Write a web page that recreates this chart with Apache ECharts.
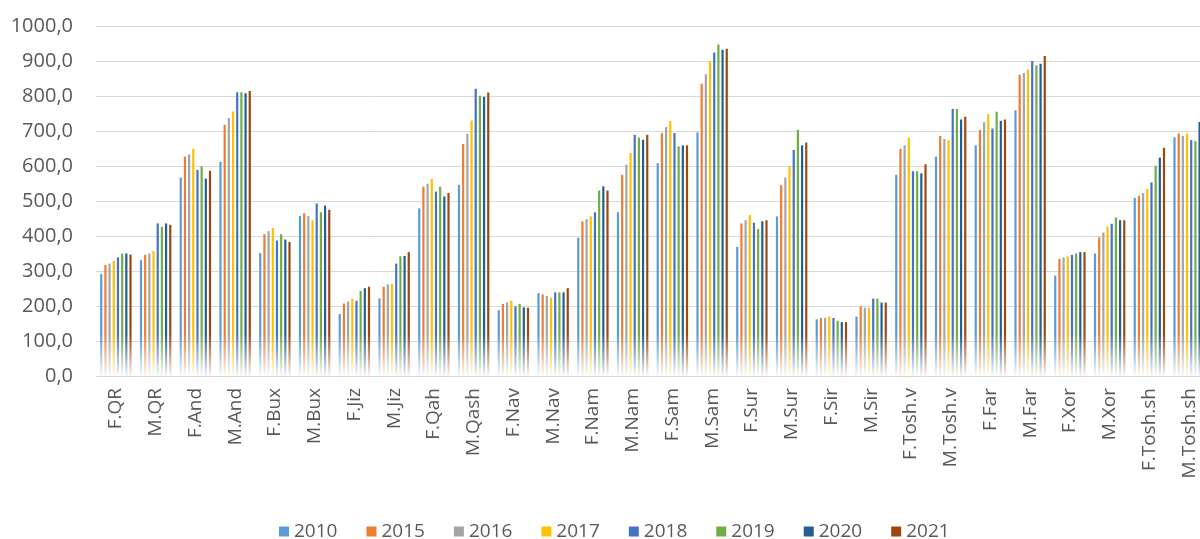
<!DOCTYPE html>
<html>
<head>
<meta charset="utf-8">
<script src="https://cdn.jsdelivr.net/npm/echarts@6/dist/echarts.min.js"></script>
<style>html,body{margin:0;padding:0;background:#fff;}#c{width:1200px;height:539px;}</style>
</head>
<body>
<div id="c"></div>
<script>
var categories = ["F.QR","M.QR","F.And","M.And","F.Bux","M.Bux","F.Jiz","M.Jiz","F.Qah","M.Qash","F.Nav","M.Nav","F.Nam","M.Nam","F.Sam","M.Sam","F.Sur","M.Sur","F.Sir","M.Sir","F.Tosh.v","M.Tosh.v","F.Far","M.Far","F.Xor","M.Xor","F.Tosh.sh","M.Tosh.sh"];
var years = ["2010","2015","2016","2017","2018","2019","2020","2021"];
var yTicks = [0,100,200,300,400,500,600,700,800,900,1000];

var s2010 = [291,331,567,612,351,457,177,222,479,546,188,237,395,468,608,696,369,456,162,170,575,627,659,759,287,350,509,682];
var s2015 = [317,346,627,718,405,465,207,255,541,663,206,233,442,575,694,835,436,545,166,199,649,686,703,861,335,396,515,693];
var s2016 = [321,350,633,737,414,457,213,262,549,692,210,229,448,604,711,862,445,567,166,195,659,677,725,866,339,410,523,686];
var s2017 = [329,357,649,756,423,445,221,263,563,730,215,224,456,637,729,900,460,600,170,195,681,674,748,876,342,427,534,693];
var s2018 = [339,436,589,811,387,493,215,321,527,821,199,239,468,689,694,924,438,646,166,221,585,763,707,900,346,435,553,674];
var s2019 = [350,426,599,811,405,468,243,342,541,801,206,239,530,681,656,947,420,703,158,221,585,763,755,888,350,453,601,671];
var s2020 = [350,436,564,808,390,487,251,343,513,798,196,239,542,675,659,932,442,659,154,210,579,733,729,892,354,445,624,726];
var s2021 = [347,432,586,814,383,475,255,354,523,810,195,251,530,689,659,935,445,667,154,210,605,741,733,914,354,445,652,730];

var seriesData = [s2010,s2015,s2016,s2017,s2018,s2019,s2020,s2021];
var colors = ["#5B9BD5","#ED7D31","#A5A5A5","#FFC000","#4472C4","#70AD47","#255E91","#9E480E"];

function hexA(h,a){var r=parseInt(h.substr(1,2),16),g=parseInt(h.substr(3,2),16),b=parseInt(h.substr(5,2),16);return 'rgba('+r+','+g+','+b+','+a+')';}

var chart = echarts.init(document.getElementById('c'), null, {renderer:'canvas'});
var series = years.map(function(y,i){
  return {
    name:y, type:'bar', data:seriesData[i], barWidth:2.2, barGap:'90%',
    itemStyle:{color:new echarts.graphic.LinearGradient(0,334,0,376,[
      {offset:0,color:colors[i]},
      {offset:0.6,color:hexA(colors[i],0.45)},
      {offset:1,color:hexA(colors[i],0.05)}
    ],true)},
    emphasis:{disabled:true},
    animation:false
  };
});

chart.setOption({
  animation:false,
  color:colors,
  grid:{left:96,top:26,width:1113,height:350,containLabel:false,outerBoundsMode:'none'},
  legend:{
    data:years.map(function(y,i){return {name:y,itemStyle:{color:colors[i]}};}),
    top:517, left:274, icon:'rect', itemWidth:10, itemHeight:10, itemGap:29,
    textStyle:{fontFamily:'Open Sans',fontSize:19,color:'#595959'}
  },
  xAxis:{
    type:'category', data:categories,
    axisLine:{lineStyle:{color:'#d9d9d9',width:1}},
    axisTick:{show:false},
    axisLabel:{rotate:90,interval:0,margin:12,fontFamily:'Open Sans',fontSize:19,color:'#595959'}
  },
  yAxis:{
    type:'value', min:yTicks[0], max:yTicks[yTicks.length-1], interval:100,
    axisLine:{show:false}, axisTick:{show:false},
    splitLine:{lineStyle:{color:'#d9d9d9',width:1}},
    axisLabel:{margin:23,fontFamily:'Open Sans',fontSize:20,color:'#595959',
      formatter:function(v){return v.toFixed(1).replace('.',',');}}
  },
  series:series
});
</script>
</body>
</html>
